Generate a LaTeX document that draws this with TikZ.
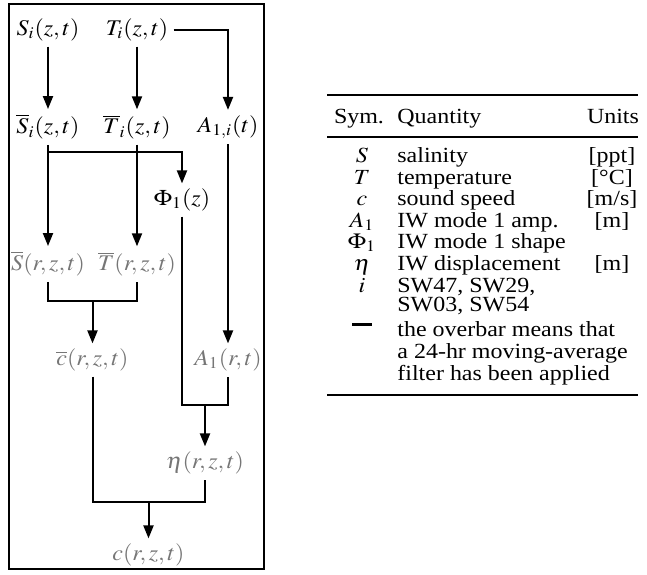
\documentclass[tikz,border=0pt]{standalone}
\usepackage{amsmath}
\usepackage{graphicx}
\usepackage{mathptmx}
\usepackage{fontspec}
\setmainfont{Liberation Serif}
\usepackage{tikz}
\usetikzlibrary{arrows.meta, positioning, calc}
\definecolor{ashgray}{RGB}{118,118,118}
% the source figure is stretched sideways
\newcommand{\dg}[1]{\scalebox{1.07}[1]{#1}}
\newcommand{\tb}[1]{\scalebox{1.11}[1]{#1}}

\begin{document}
\begin{tikzpicture}[x=0.5pt, y=-0.5pt, >={Triangle[length=6.5pt,width=5pt]}]
  \tikzstyle{var} = [inner sep=2.5pt, text=black, font=\fontsize{11.2}{13}\selectfont]
  \tikzstyle{field} = [var, text=ashgray]
  \tikzstyle{flow} = [line width=1pt]
  \tikzstyle{sym} = [anchor=base, inner sep=0pt, font=\fontsize{10.8}{12}\selectfont]
  \tikzstyle{qty} = [sym, anchor=base west]
  \tikzstyle{unit} = [sym]

  \useasboundingbox (0,0) rectangle (647,574);
  \draw[line width=1.2pt] (9,4) rectangle (264,569);

  % mooring series
  \node [var] (Si) at (48,30) {\dg{$S_i(z,t)$}};
  \node [var] (Ti) at (137,30) {\dg{$T_i(z,t)$}};
  \node [var] (Sbi) at (48,127) {\dg{$\overline{S}_i(z,t)$}};
  \node [var] (Tbi) at (137,127) {\dg{$\overline{T}_i(z,t)$}};
  \node [var] (A1i) at (228,127) {\dg{$A_{1,i}(t)$}};
  \node [var] (Phi) at (182,200) {\dg{$\Phi_1(z)$}};

  % range dependent fields
  \node [field] (Sb) at (48,264) {\dg{$\overline{S}(r,z,t)$}};
  \node [field] (Tb) at (137,264) {\dg{$\overline{T}(r,z,t)$}};
  \node [field] (cb) at (92.5,360) {\dg{$\overline{c}(r,z,t)$}};
  \node [field] (A1) at (228,360) {\dg{$A_1(r,t)$}};
  \node [field] (eta) at (205,463) {\dg{$\eta(r,z,t)$}};
  \node [field] (c) at (148.5,555) {\dg{$c(r,z,t)$}};

  \coordinate (phij) at ($(Sbi.south)+(0,7)$);
  \coordinate (etaj) at (205,405);
  \coordinate (cj) at (148.5,502);

  \draw[->, flow] (Si) -- (Sbi);
  \draw[->, flow] (Ti) -- (Tbi);
  \draw[->, flow] (Ti) -| (A1i);
  \draw[->, flow] (Sbi) -- (Sb);
  \draw[->, flow] (Tbi) -- (Tb);
  \draw[->, flow] (phij) -| (Phi);
  \draw[->, flow] (A1i) -- (A1);

  \draw[flow] (Sb.south) -- ++(0,19) -| (Tb.south);
  \draw[->, flow] ($(Sb.south)!0.5!(Tb.south)+(0,19)$) -- (cb);
  \draw[flow] (Phi.south) |- (etaj) -| (A1.south);
  \draw[->, flow] (etaj) -- (eta);
  \draw[flow] (cb.south) |- (cj) -| (eta.south);
  \draw[->, flow] (cj) -- (c);

  % symbol table
  \draw[line width=1.2pt] (327,95) -- (638,95);
  \draw[line width=0.8pt] (327,137) -- (638,137);
  \draw[line width=1.2pt] (327,395) -- (638,395);

  \node [sym] (hsym) at (359,123) {\tb{Sym.}};
  \node [qty] (hqty) at (397,123) {\tb{Quantity}};
  \node [unit] (hunit) at (613,123) {\tb{Units}};

  \node [sym] (sS) at (362,162) {\tb{$S$}};
  \node [qty] (qS) at (397,162) {\tb{salinity}};
  \node [unit] (uS) at (612,162) {\tb{[ppt]}};

  \node [sym] (sT) at (362,184) {\tb{$T$}};
  \node [qty] (qT) at (397,184) {\tb{temperature}};
  \node [unit] (uT) at (612,184) {\tb{[°C]}};

  \node [sym] (sc) at (362,205) {\tb{$c$}};
  \node [qty] (qc) at (397,205) {\tb{sound speed}};
  \node [unit] (uc) at (612,205) {\tb{[m/s]}};

  \node [sym] (sA) at (362,227) {\tb{$A_1$}};
  \node [qty] (qA) at (397,227) {\tb{IW mode 1 amp.}};
  \node [unit] (uA) at (612,227) {\tb{[m]}};

  \node [sym] (sPhi) at (362,248) {\tb{$\Phi_1$}};
  \node [qty] (qPhi) at (397,248) {\tb{IW mode 1 shape}};

  \node [sym] (seta) at (362,270) {\tb{$\eta$}};
  \node [qty] (qeta) at (397,270) {\tb{IW displacement}};
  \node [unit] (ueta) at (612,270) {\tb{[m]}};

  \node [sym] (si) at (362,292) {\tb{$i$}};
  \node [qty] (qi) at (397,292) {\tb{SW47, SW29,}};
  \node [qty] (qi2) at (397,311) {\tb{SW03, SW54}};

  \node [sym] (sbar) at (362,336) {\rule[0.45em]{10pt}{1.4pt}};
  \node [qty] (qbar) at (397,336) {\tb{the overbar means that}};
  \node [qty] (qbar2) at (397,358) {\tb{a 24-hr moving-average}};
  \node [qty] (qbar3) at (397,380) {\tb{filter has been applied}};
\end{tikzpicture}
\end{document}
